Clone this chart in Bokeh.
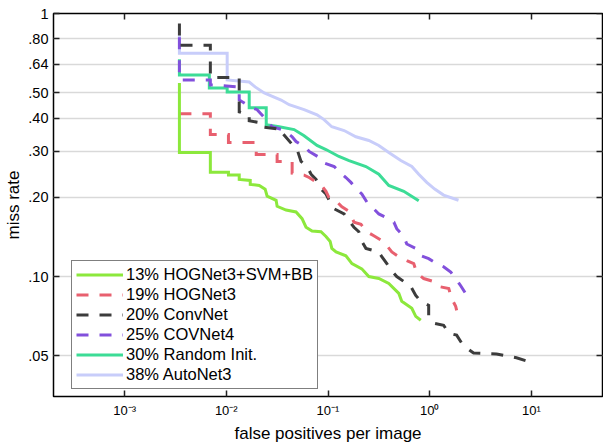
from bokeh.plotting import figure
from bokeh.models import (LogAxis, FixedTicker, CustomJSTickFormatter, Legend,
                          LegendItem)
from bokeh.embed import file_html
from bokeh.resources import INLINE

# ---------------- data ----------------
series_labels = ["13% HOGNet3+SVM+BB", "19% HOGNet3", "20% ConvNet",
                 "25% COVNet4", "30% Random Init.", "38% AutoNet3"]

fppi_hognet3_svm_bb = [0.00346, 0.00346, 0.00697, 0.00697, 0.0105, 0.0105, 0.0134, 0.0134,
                       0.0172, 0.0172, 0.0211, 0.0241, 0.0252, 0.0309, 0.0316, 0.0387,
                       0.0485, 0.0556, 0.0608, 0.0697, 0.0853, 0.0955, 0.105, 0.109,
                       0.120, 0.150, 0.172, 0.215, 0.252, 0.316, 0.396, 0.497, 0.531,
                       0.667, 0.729, 0.817]
miss_hognet3_svm_bb = [0.544, 0.296, 0.296, 0.249, 0.249, 0.243, 0.243, 0.234, 0.232,
                       0.224, 0.222, 0.215, 0.202, 0.195, 0.185, 0.179, 0.176, 0.166,
                       0.154, 0.149, 0.148, 0.142, 0.136, 0.128, 0.124, 0.120, 0.112,
                       0.107, 0.100, 0.0983, 0.0941, 0.0863, 0.0805, 0.0757, 0.0706,
                       0.0682]

fppi_hognet3 = [0.00346, 0.00697, 0.00697, 0.0105, 0.0105, 0.0197, 0.0197, 0.0316, 0.0316,
                0.0444, 0.0444, 0.0582, 0.0652, 0.0873, 0.0955, 0.102, 0.120, 0.137,
                0.161, 0.180, 0.211, 0.241, 0.282, 0.338, 0.379, 0.424, 0.497, 0.595,
                0.697, 0.746, 0.873, 1.09, 1.22, 1.54, 1.64, 1.80, 1.84]
miss_hognet3 = [0.416, 0.416, 0.347, 0.347, 0.323, 0.323, 0.291, 0.291, 0.274, 0.274,
                0.247, 0.243, 0.238, 0.221, 0.211, 0.200, 0.194, 0.184, 0.177, 0.161,
                0.158, 0.148, 0.143, 0.137, 0.131, 0.124, 0.119, 0.115, 0.112, 0.103,
                0.0983, 0.0958, 0.0917, 0.0901, 0.0826, 0.0771, 0.0744]

fppi_convnet = [0.00346, 0.00346, 0.00697, 0.00697, 0.0134, 0.0134, 0.0168, 0.0168, 0.0220,
                0.0220, 0.0354, 0.0354, 0.0444, 0.0497, 0.0543, 0.0622, 0.0681, 0.0763,
                0.0853, 0.0955, 0.107, 0.115, 0.144, 0.161, 0.180, 0.201, 0.215, 0.236,
                0.316, 0.338, 0.379, 0.424, 0.474, 0.556, 0.651, 0.729, 0.817, 0.977,
                0.977, 1.09, 1.37, 1.54, 1.84, 2.06, 2.31, 2.70, 4.54, 7.13, 8.93]
miss_convnet = [0.917, 0.757, 0.757, 0.571, 0.571, 0.423, 0.412, 0.391, 0.384, 0.371,
                0.362, 0.352, 0.318, 0.304, 0.274, 0.262, 0.245, 0.234, 0.215, 0.206,
                0.189, 0.181, 0.173, 0.163, 0.154, 0.148, 0.136, 0.128, 0.124, 0.119,
                0.112, 0.105, 0.100, 0.0958, 0.0917, 0.0848, 0.0805, 0.0777, 0.0706,
                0.0665, 0.0653, 0.0609, 0.0599, 0.0559, 0.0535, 0.0512, 0.0508, 0.0491,
                0.0478]

fppi_covnet4 = [0.00346, 0.00346, 0.00697, 0.00697, 0.0134, 0.0134, 0.0180, 0.0201, 0.0264,
                0.0282, 0.0354, 0.0415, 0.0444, 0.0485, 0.0608, 0.0652, 0.0817, 0.0873,
                0.115, 0.128, 0.150, 0.168, 0.192, 0.215, 0.241, 0.270, 0.316, 0.370,
                0.444, 0.474, 0.556, 0.595, 0.729, 0.817, 0.977, 1.09, 1.37, 1.61, 1.80,
                2.01, 2.25, 2.31]
miss_covnet4 = [0.812, 0.559, 0.559, 0.535, 0.526, 0.469, 0.438, 0.431, 0.384, 0.371,
                0.362, 0.347, 0.340, 0.326, 0.309, 0.299, 0.284, 0.272, 0.262, 0.251,
                0.238, 0.228, 0.215, 0.206, 0.192, 0.184, 0.173, 0.168, 0.161, 0.152,
                0.142, 0.133, 0.128, 0.120, 0.117, 0.114, 0.109, 0.104, 0.0983, 0.0925,
                0.0863, 0.0848]

fppi_random_init = [0.00346, 0.00346, 0.00681, 0.00681, 0.0102, 0.0102, 0.0168, 0.0168,
                    0.0247, 0.0247, 0.0331, 0.0464, 0.0582, 0.078, 0.0955, 0.128, 0.161,
                    0.236, 0.316, 0.396, 0.556, 0.780]
miss_random_init = [0.670, 0.584, 0.584, 0.521, 0.521, 0.503, 0.503, 0.438, 0.438, 0.378,
                    0.371, 0.362, 0.343, 0.315, 0.304, 0.286, 0.276, 0.262, 0.245, 0.222,
                    0.211, 0.194]

fppi_autonet3 = [0.00346, 0.00346, 0.0102, 0.0102, 0.0168, 0.0192, 0.0236, 0.0346, 0.0415,
                 0.0582, 0.078, 0.0914, 0.109, 0.144, 0.188, 0.252, 0.316, 0.396, 0.520,
                 0.667, 0.780, 0.935, 1.12, 1.37, 1.92]
miss_autonet3 = [0.826, 0.706, 0.706, 0.559, 0.549, 0.526, 0.499, 0.469, 0.450, 0.431,
                 0.412, 0.395, 0.371, 0.359, 0.340, 0.329, 0.315, 0.296, 0.276, 0.262,
                 0.245, 0.228, 0.215, 0.204, 0.195]

x_tick_values = [1e-3, 1e-2, 1e-1, 1.0, 10.0]
x_tick_labels = ["10\u207b\u00b3", "10\u207b\u00b2", "10\u207b\u00b9", "10\u2070", "10\u00b9"]
y_tick_values = [0.05, 0.10, 0.20, 0.30, 0.40, 0.50, 0.64, 0.80, 1.0]
y_tick_labels = [".05", ".10", ".20", ".30", ".40", ".50", ".64", ".80", "1"]
x_lo, x_hi = 2e-4, 50.0
y_lo, y_hi = 0.035, 1.0

# ---------------- styling ----------------
FONT = "Liberation Sans"
colors = ["#8ce83c", "#e8606f", "#3c3c3c", "#8250dc", "#3cdc96", "#c8cdfa"]
dashes = ["solid", "12 11", "12 11", "12 11", "solid", "solid"]

p = figure(width=603, height=445, x_axis_type="log", y_axis_type="log",
           x_range=(x_lo, x_hi), y_range=(y_lo, y_hi),
           output_backend="svg", toolbar_location=None,
           min_border_left=53, min_border_right=1, min_border_top=13,
           min_border_bottom=47)
p.background_fill_color = "white"
p.border_fill_color = "white"
p.outline_line_color = "black"
p.outline_line_width = 1.5
p.xgrid.visible = False
p.ygrid.ticker = FixedTicker(ticks=y_tick_values)
p.ygrid.grid_line_color = "#d9d9d9"
p.ygrid.grid_line_width = 1.5

fmt_code = """
for (let i = 0; i < vals.length; i++) {
    if (Math.abs(Math.log(tick / vals[i])) < 1e-6) { return labs[i]; }
}
return '';
"""

xa = p.xaxis[0]
xa.ticker = FixedTicker(ticks=x_tick_values)
xa.formatter = CustomJSTickFormatter(args=dict(vals=x_tick_values, labs=x_tick_labels),
                                     code=fmt_code)
ya = p.yaxis[0]
ya.ticker = FixedTicker(ticks=y_tick_values)
ya.formatter = CustomJSTickFormatter(args=dict(vals=y_tick_values, labs=y_tick_labels),
                                     code=fmt_code)
for ax in (xa, ya):
    ax.major_tick_in = 6
    ax.major_tick_out = 0
    ax.major_tick_line_color = "#222222"
    ax.major_tick_line_width = 1.5
    ax.minor_tick_line_color = None
    ax.axis_line_color = None
    ax.major_label_text_font = FONT
    ax.major_label_text_color = "black"
    ax.axis_label_text_font = FONT
    ax.axis_label_text_font_style = "normal"
    ax.axis_label_text_color = "black"
    ax.axis_label_text_font_size = "17px"
xa.major_label_text_font_size = "13px"
xa.major_label_standoff = 6
xa.axis_label = "false positives per image"
xa.axis_label_standoff = 3
ya.major_label_text_font_size = "14.5px"
ya.major_label_standoff = 5
ya.axis_label = "miss rate"
ya.axis_label_standoff = 2

# mirrored inward ticks on the top and right edges of the frame
empty = "return '';"
top = LogAxis(ticker=FixedTicker(ticks=x_tick_values),
              formatter=CustomJSTickFormatter(code=empty), fixed_location=y_hi)
right = LogAxis(ticker=FixedTicker(ticks=y_tick_values),
                formatter=CustomJSTickFormatter(code=empty), fixed_location=x_hi)
for ax in (top, right):
    ax.major_tick_in = 6
    ax.major_tick_out = 0
    ax.major_tick_line_color = "#222222"
    ax.major_tick_line_width = 1.5
    ax.minor_tick_line_color = None
    ax.axis_line_color = None
    ax.major_label_standoff = 0
    ax.major_label_text_font_size = "0px"
p.add_layout(top, "above")
p.add_layout(right, "right")

xs = [fppi_hognet3_svm_bb, fppi_hognet3, fppi_convnet, fppi_covnet4,
      fppi_random_init, fppi_autonet3]
ys = [miss_hognet3_svm_bb, miss_hognet3, miss_convnet, miss_covnet4,
      miss_random_init, miss_autonet3]

renderers = [None] * 6
for i in reversed(range(6)):
    renderers[i] = p.line(xs[i], ys[i], line_color=colors[i], line_width=3,
                          line_dash=dashes[i], line_join="miter", line_cap="butt")

items = [LegendItem(label=series_labels[i], renderers=[renderers[i]]) for i in range(6)]
legend = Legend(items=items, location=(18, 7))
legend.border_line_color = "black"
legend.border_line_width = 1.5
legend.background_fill_color = "white"
legend.background_fill_alpha = 1.0
legend.label_text_font = FONT
legend.label_text_font_size = "16.5px"
legend.label_text_color = "black"
legend.glyph_width = 47
legend.glyph_height = 17
legend.label_height = 17
legend.label_standoff = 3
legend.spacing = 1
legend.padding = 4
legend.margin = 0
p.add_layout(legend)

open("out.html", "w").write(file_html(p, INLINE))
